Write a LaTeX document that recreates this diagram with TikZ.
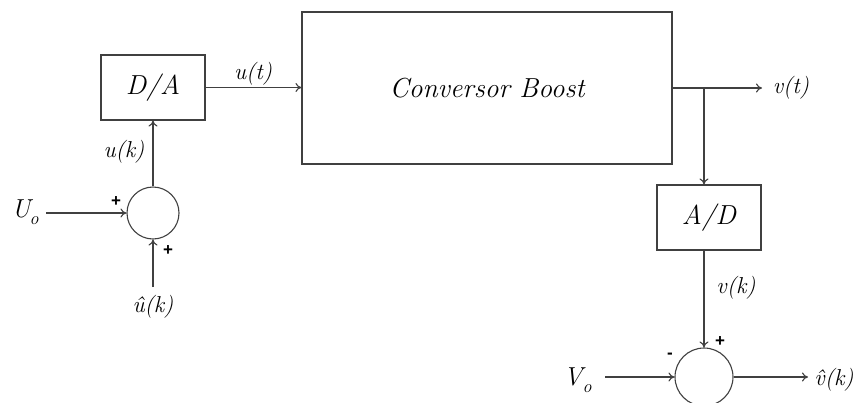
\documentclass[tikz,border=0pt]{standalone}
\usepackage{fontspec}
\setsansfont{Liberation Sans}
\usetikzlibrary{arrows.meta}
\begin{document}
\begin{tikzpicture}[x=1pt,y=-1pt,
  line/.style={draw=black!75, line width=1.1pt},
  arr/.style={line, -{To[length=6pt,width=9pt]}},
  blk/.style={draw=black!75, line width=1.1pt, rectangle, inner sep=0pt},
  sumc/.style={draw=black!75, line width=1.1pt, circle, inner sep=0pt},
  lbl/.style={font=\rmfamily\itshape\fontsize{23}{23}\selectfont, inner sep=0pt},
  big/.style={font=\rmfamily\itshape\fontsize{27.5}{27.5}\selectfont},
  sgn/.style={font=\sffamily\bfseries\fontsize{17}{17}\selectfont, inner sep=0pt}]
\useasboundingbox (0,0) rectangle (856,402);
% blocks
\node[blk, big, minimum width=370pt, minimum height=152pt] (boost) at (487,88) {Conversor Boost};
\node[blk, big, minimum width=104pt, minimum height=65pt] (da) at (153,87.5) {D/A};
\node[blk, big, minimum width=104pt, minimum height=65pt] (ad) at (709,217.5) {A/D};
\node[sumc, minimum size=52pt] (sum1) at (153,213) {};
\node[sumc, minimum size=58pt] (sum2) at (704,377) {};
% labels
\node[lbl] (ut) at (253,74) {u(t)};
\node[lbl] (uk) at (124,152) {u(k)};
\node[lbl] (vt) at (791,88) {v(t)};
\node[lbl] (vk) at (736,288) {v(k)};
\node[lbl] (uhat) at (153,307) {\^{u}(k)};
\node[lbl] (vhat) at (834,380) {\^{v}(k)};
\node[inner sep=0pt, font=\rmfamily\itshape\fontsize{26}{26}\selectfont] (Uo) at (21,209) {U};
\node[inner sep=0pt, font=\rmfamily\itshape\fontsize{18}{18}\selectfont] (Uosub) at (34,221) {o};
\node[inner sep=0pt, font=\rmfamily\itshape\fontsize{26}{26}\selectfont] (Vo) at (573,377) {V};
\node[inner sep=0pt, font=\rmfamily\itshape\fontsize{18}{18}\selectfont] (Vosub) at (587,389) {o};
% signs
\node[sgn] (p1) at (116,202) {+};
\node[sgn] (p2) at (168,251) {+};
\node[sgn] (m3) at (670,356) {-};
\node[sgn] (p4) at (720,342) {+};
% free ends
\coordinate (br) at (704,88);
\coordinate (vtend) at (762,88);
\coordinate (uostart) at (46,213);
\coordinate (uhstart) at (153,287);
\coordinate (vostart) at (605,377);
\coordinate (vhend) at (808,377);
% connectors
\draw[arr] (da.east) -- (boost.west |- da.east);
\draw[arr] (boost.east |- br) -- (vtend);
\draw[arr] (br) -- (br |- ad.north);
\draw[arr] (br |- ad.south) -- (sum2.north);
\draw[arr] (sum1.north) -- (da.south);
\draw[arr] (uostart) -- (sum1.west);
\draw[arr] (uhstart) -- (sum1.south);
\draw[arr] (vostart) -- (sum2.west);
\draw[arr] (sum2.east) -- (vhend);
\end{tikzpicture}
\end{document}
